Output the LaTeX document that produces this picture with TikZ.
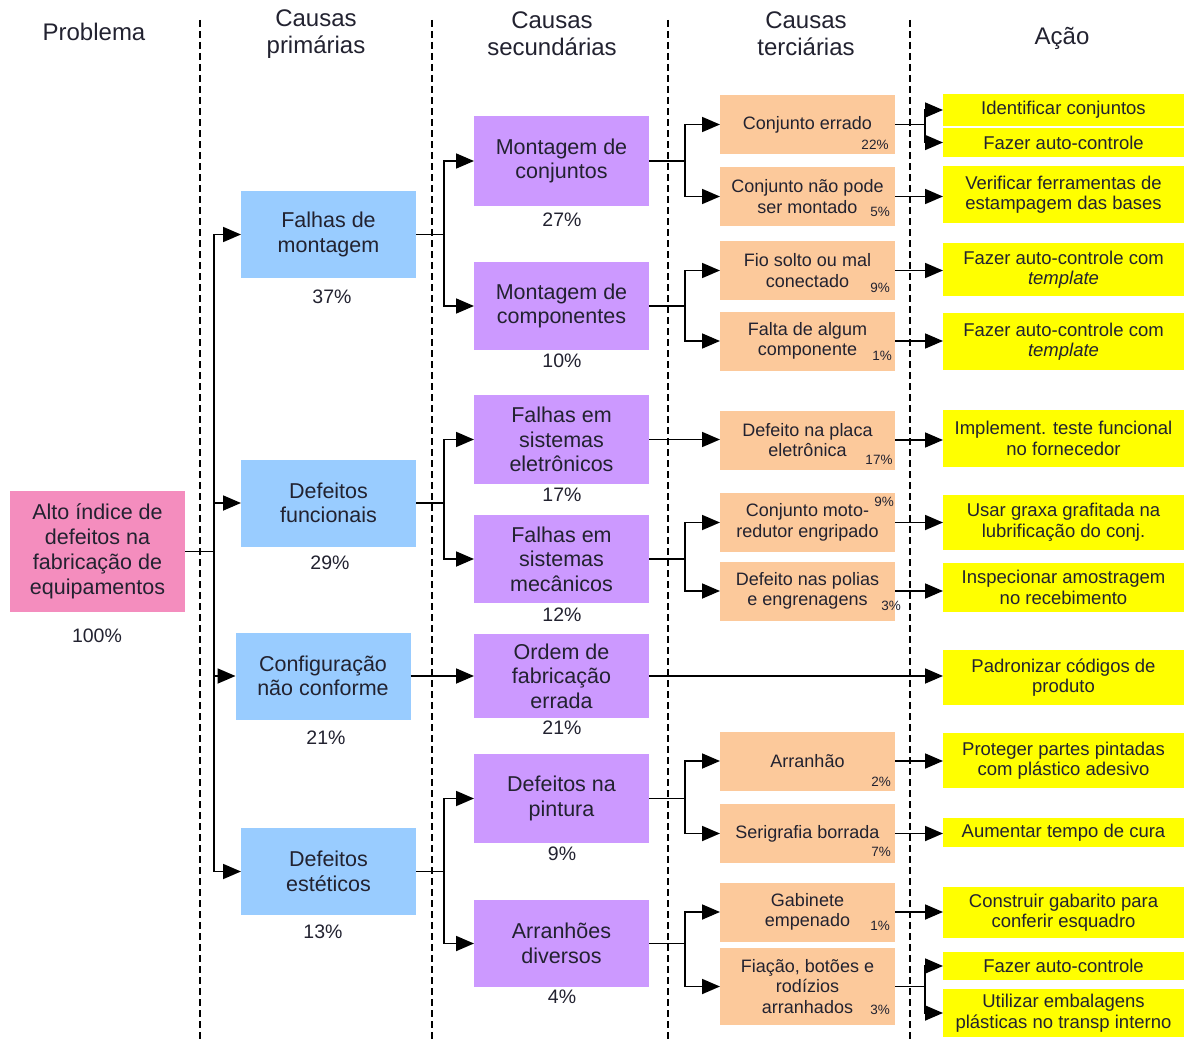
\documentclass[tikz,border=0pt]{standalone}
\usepackage{fontspec}
\setmainfont{Liberation Sans}
\usetikzlibrary{arrows.meta}
\definecolor{pinkbox}{HTML}{F48DBE}
\definecolor{bluebox}{HTML}{99CCFF}
\definecolor{purplebox}{HTML}{CC99FF}
\definecolor{peachbox}{HTML}{FCC99B}
\definecolor{yellowbox}{HTML}{FFFF00}
\definecolor{txt}{HTML}{222230}
\begin{document}
\begin{tikzpicture}[x=1pt,y=-1pt,
  every node/.style={text=txt, inner sep=0pt, outer sep=0pt},
  hdr/.style={align=center, font=\fontsize{24}{27}\selectfont},
  prob/.style={fill=pinkbox, minimum width=175pt, minimum height=121pt, align=center, font=\fontsize{21.5}{25}\selectfont},
  prim/.style={fill=bluebox, minimum width=175pt, minimum height=87pt, align=center, font=\fontsize{21.5}{24.5}\selectfont},
  sec/.style={fill=purplebox, minimum width=175pt, align=center, font=\fontsize{21.5}{24.5}\selectfont},
  ter/.style={fill=peachbox, minimum width=175pt, minimum height=59pt, align=center, font=\fontsize{18}{20.5}\selectfont},
  act/.style={fill=yellowbox, minimum width=241pt, align=center, font=\fontsize{18.5}{20.5}\selectfont},
  pct/.style={font=\fontsize{19.5}{22}\selectfont},
  spct/.style={font=\fontsize{13.5}{15}\selectfont},
  lin/.style={draw=black, line width=1.8pt},
  arr/.style={draw=black, line width=1.8pt, -{Triangle[length=18pt,width=15pt]}},
  sepline/.style={draw=black, line width=1.5pt, dash pattern=on 7pt off 4pt}
]
\useasboundingbox (0,0) rectangle (1184,1041);

% separators
\draw[sepline] (200,20) -- (200,1041);
\draw[sepline] (432,20) -- (432,1041);
\draw[sepline] (668,20) -- (668,1041);
\draw[sepline] (910,20) -- (910,1041);

% headers
\node[hdr] (h1) at (94,32) {Problema};
\node[hdr] (h2) at (316,34) {Causas\\primárias};
\node[hdr] (h3) at (552,34) {Causas\\secundárias};
\node[hdr] (h4) at (806,34) {Causas\\terciárias};
\node[hdr] (h5) at (1062,38) {Ação};

% problem
\node[prob] (P) at (97.5,551.5) {Alto índice de\\defeitos na\\fabricação de\\equipamentos};
\node[pct] (pP) at (97,636) {100\%};

% primary causes
\node[prim] (FM) at (328.5,234.5) {Falhas de\\montagem};
\node[pct] (pFM) at (332,297) {37\%};
\node[prim] (DF) at (328.5,503) {Defeitos\\funcionais};
\node[pct] (pDF) at (330,563) {29\%};
\node[prim] (CNC) at (323,676) {Configuração\\não conforme};
\node[pct] (pCNC) at (326,738) {21\%};
\node[prim] (DE) at (328.5,871.5) {Defeitos\\estéticos};
\node[pct] (pDE) at (323,932) {13\%};

% secondary causes
\node[sec, minimum height=90pt] (MC) at (561.5,161) {Montagem de\\conjuntos};
\node[pct] (pMC) at (562,220) {27\%};
\node[sec, minimum height=88pt] (MCo) at (561.5,306) {Montagem de\\componentes};
\node[pct] (pMCo) at (562,361) {10\%};
\node[sec, minimum height=89pt] (FSE) at (561.5,439.5) {Falhas em\\sistemas\\eletrônicos};
\node[pct] (pFSE) at (562,495) {17\%};
\node[sec, minimum height=88pt] (FSM) at (561.5,559) {Falhas em\\sistemas\\mecânicos};
\node[pct] (pFSM) at (562,615) {12\%};
\node[sec, minimum height=84pt] (OFE) at (561.5,676) {Ordem de\\fabricação\\errada};
\node[pct] (pOFE) at (562,728) {21\%};
\node[sec, minimum height=89pt] (DNP) at (561.5,798.5) {Defeitos na\\pintura};
\node[pct] (pDNP) at (562,854) {9\%};
\node[sec, minimum height=87pt] (AD) at (561.5,943.5) {Arranhões\\diversos};
\node[pct] (pAD) at (562,997) {4\%};

% tertiary causes
\node[ter] (CE) at (807.5,124.5) {Conjunto errado};
\node[spct] (pCE) at (875,145) {22\%};
\node[ter] (CNP) at (807.5,196.5) {Conjunto não pode\\ser montado};
\node[spct] (pCNP) at (880,212) {5\%};
\node[ter] (FSO) at (807.5,270.5) {Fio solto ou mal\\conectado};
\node[spct] (pFSO) at (880,288) {9\%};
\node[ter] (FAC) at (807.5,341) {Falta de algum\\componente};
\node[spct] (pFAC) at (882,356) {1\%};
\node[ter] (DPE) at (807.5,440) {Defeito na placa\\eletrônica};
\node[spct] (pDPE) at (879,460) {17\%};
\node[ter] (CMR) at (807.5,522.5) {Conjunto moto-\\redutor engripado};
\node[spct] (pCMR) at (884,502) {9\%};
\node[ter] (DPO) at (807.5,591) {Defeito nas polias\\e engrenagens};
\node[spct] (pDPO) at (891,606) {3\%};
\node[ter] (ARR) at (807.5,761) {Arranhão};
\node[spct] (pARR) at (881,782) {2\%};
\node[ter] (SB) at (807.5,833.5) {Serigrafia borrada};
\node[spct] (pSB) at (881,852) {7\%};
\node[ter] (GE) at (807.5,912) {Gabinete\\empenado};
\node[spct] (pGE) at (880,926) {1\%};
\node[ter, minimum height=77pt] (FBR) at (807.5,986.5) {Fiação, botões e\\rodízios\\arranhados};
\node[spct] (pFBR) at (880,1010) {3\%};

% actions
\node[act, minimum height=32pt] (A1) at (1063.5,110) {Identificar conjuntos};
\node[act, minimum height=29pt] (A2) at (1063.5,142.5) {Fazer auto-controle};
\node[act, minimum height=57pt] (A3) at (1063.5,194.5) {Verificar ferramentas de\\estampagem das bases};
\node[act, minimum height=53pt] (A4) at (1063.5,269.5) {Fazer auto-controle com\\\textit{template}};
\node[act, minimum height=57pt] (A5) at (1063.5,341.5) {Fazer auto-controle com\\\textit{template}};
\node[act, minimum height=57pt] (A6) at (1063.5,438.5) {Implement. teste funcional\\no fornecedor};
\node[act, minimum height=55pt] (A7) at (1063.5,522.5) {Usar graxa grafitada na\\lubrificação do conj.};
\node[act, minimum height=49pt] (A8) at (1063.5,587.5) {Inspecionar amostragem\\no recebimento};
\node[act, minimum height=55pt] (A9) at (1063.5,677.5) {Padronizar códigos de\\produto};
\node[act, minimum height=55pt] (A10) at (1063.5,760.5) {Proteger partes pintadas\\com plástico adesivo};
\node[act, minimum height=29pt] (A11) at (1063.5,832.5) {Aumentar tempo de cura};
\node[act, minimum height=51pt] (A12) at (1063.5,912.5) {Construir gabarito para\\conferir esquadro};
\node[act, minimum height=28pt] (A13) at (1063.5,966) {Fazer auto-controle};
\node[act, minimum height=48pt] (A14) at (1063.5,1013) {Utilizar embalagens\\plásticas no transp interno};

% junction points
\path (P.east) ++(29,0) coordinate (jP);
\path (FM.east) ++(28,0) coordinate (jFM);
\path (DF.east) ++(28,0) coordinate (jDF);
\path (DE.east) ++(28,0) coordinate (jDE);
\path (MC.east) ++(36,0) coordinate (jMC);
\path (MCo.east) ++(36,0) coordinate (jMCo);
\path (FSM.east) ++(36,0) coordinate (jFSM);
\path (DNP.east) ++(36,0) coordinate (jDNP);
\path (AD.east) ++(36,0) coordinate (jAD);
\path (CE.east) ++(30,0) coordinate (jCE);
\path (FBR.east) ++(30,0) coordinate (jFBR);

% problem -> primary
\draw[lin] (P.east) -- (jP);
\draw[arr] (jP) |- (FM.west);
\draw[arr] (jP) |- (DF.west);
\draw[arr] (jP) |- (CNC.west);
\draw[arr] (jP) |- (DE.west);

% primary -> secondary
\draw[lin] (FM.east) -- (jFM);
\draw[arr] (jFM) |- (MC.west);
\draw[arr] (jFM) |- (MCo.west);
\draw[lin] (DF.east) -- (jDF);
\draw[arr] (jDF) |- (FSE.west);
\draw[arr] (jDF) |- (FSM.west);
\draw[arr] (CNC.east) -- (CNC.east -| OFE.west);
\draw[lin] (DE.east) -- (jDE);
\draw[arr] (jDE) |- (DNP.west);
\draw[arr] (jDE) |- (AD.west);

% secondary -> tertiary
\draw[lin] (MC.east) -- (jMC);
\draw[arr] (jMC) |- (CE.west);
\draw[arr] (jMC) |- (CNP.west);
\draw[lin] (MCo.east) -- (jMCo);
\draw[arr] (jMCo) |- (FSO.west);
\draw[arr] (jMCo) |- (FAC.west);
\draw[arr] (FSE.east) -- (FSE.east -| DPE.west);
\draw[lin] (FSM.east) -- (jFSM);
\draw[arr] (jFSM) |- (CMR.west);
\draw[arr] (jFSM) |- (DPO.west);
\draw[arr] (OFE.east) -- (OFE.east -| A9.west);
\draw[lin] (DNP.east) -- (jDNP);
\draw[arr] (jDNP) |- (ARR.west);
\draw[arr] (jDNP) |- (SB.west);
\draw[lin] (AD.east) -- (jAD);
\draw[arr] (jAD) |- (GE.west);
\draw[arr] (jAD) |- (FBR.west);

% tertiary -> actions
\draw[lin] (CE.east) -- (jCE);
\draw[arr] (jCE) |- (A1.west);
\draw[arr] (jCE) |- (A2.west);
\draw[arr] (CNP.east) -- (CNP.east -| A3.west);
\draw[arr] (FSO.east) -- (FSO.east -| A4.west);
\draw[arr] (FAC.east) -- (FAC.east -| A5.west);
\draw[arr] (DPE.east) -- (DPE.east -| A6.west);
\draw[arr] (CMR.east) -- (CMR.east -| A7.west);
\draw[arr] (DPO.east) -- (DPO.east -| A8.west);
\draw[arr] (ARR.east) -- (ARR.east -| A10.west);
\draw[arr] (SB.east) -- (SB.east -| A11.west);
\draw[arr] (GE.east) -- (GE.east -| A12.west);
\draw[lin] (FBR.east) -- (jFBR);
\draw[arr] (jFBR) |- (A13.west);
\draw[arr] (jFBR) |- (A14.west);
\end{tikzpicture}
\end{document}
